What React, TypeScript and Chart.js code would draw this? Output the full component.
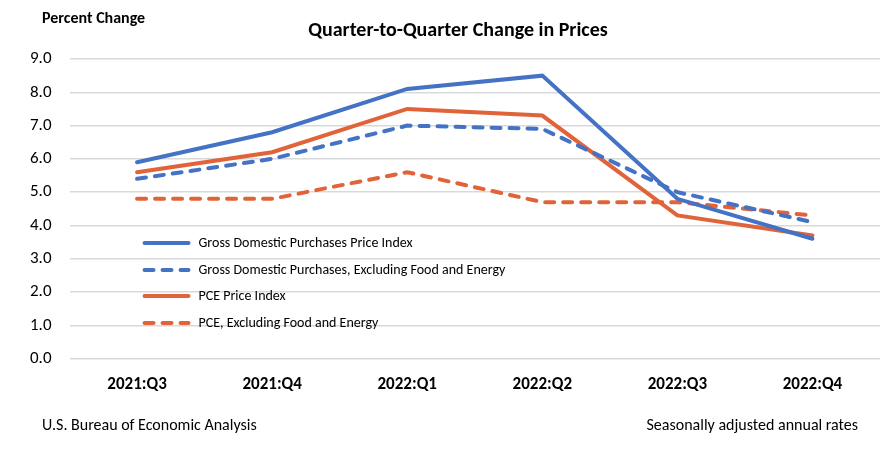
import React, { useEffect, useRef } from "react";
import { Chart, registerables } from "chart.js";

Chart.register(...registerables);

const quarters = ["2021:Q3", "2021:Q4", "2022:Q1", "2022:Q2", "2022:Q3", "2022:Q4"];
const gdpPurchases = [5.9, 6.8, 8.1, 8.5, 4.8, 3.6];
const gdpPurchasesCore = [5.4, 6.0, 7.0, 6.9, 5.0, 4.1];
const pce = [5.6, 6.2, 7.5, 7.3, 4.3, 3.7];
const pceCore = [4.8, 4.8, 5.6, 4.7, 4.7, 4.3];
const yTicks = [0, 1, 2, 3, 4, 5, 6, 7, 8, 9];

const seriesNames = [
  "Gross Domestic Purchases Price Index",
  "Gross Domestic Purchases, Excluding Food and Energy",
  "PCE Price Index",
  "PCE, Excluding Food and Energy",
];

const BLUE = "#4472C4";
const ORANGE = "#E0633A";
const FONT = "Carlito, Lato, 'Liberation Sans', sans-serif";
const DASH = [9, 9];

const textPlugin = {
  id: "bea-text",
  afterDraw(chart: any) {
    const ctx = chart.ctx;
    ctx.save();
    ctx.fillStyle = "#000";
    ctx.textBaseline = "middle";
    ctx.font = `bold 16px ${FONT}`;
    ctx.textAlign = "left";
    ctx.fillText("Percent Change", 42, 19);
    ctx.font = `bold 20px ${FONT}`;
    ctx.textAlign = "center";
    ctx.fillText("Quarter-to-Quarter Change in Prices", 458, 31);
    ctx.font = `16px ${FONT}`;
    ctx.textAlign = "left";
    ctx.fillText("U.S. Bureau of Economic Analysis", 42, 426);
    ctx.textAlign = "right";
    ctx.fillText("Seasonally adjusted annual rates", 858, 426);

    // legend inside plot
    const area = chart.chartArea;
    const x0 = area.left + 73;
    const rows = [243, 270, 296, 323];
    chart.data.datasets.forEach((ds: any, i: number) => {
      const y = rows[i];
      ctx.beginPath();
      ctx.strokeStyle = ds.borderColor;
      ctx.lineWidth = 4;
      ctx.lineCap = "round";
      ctx.setLineDash(ds.borderDash ? DASH : []);
      ctx.moveTo(x0 + 2, y);
      ctx.lineTo(x0 + 46, y);
      ctx.stroke();
      ctx.setLineDash([]);
      ctx.fillStyle = "#000";
      ctx.textAlign = "left";
      ctx.font = `14px ${FONT}`;
      ctx.fillText(ds.label, x0 + 56, y);
    });
    ctx.restore();
  },
};

export default function App() {
  const ref = useRef<HTMLCanvasElement>(null);
  useEffect(() => {
    document.body.style.margin = "0";
    const mk = (label: string, data: number[], color: string, dashed: boolean) => ({
      label,
      data,
      borderColor: color,
      backgroundColor: color,
      borderWidth: 4,
      borderDash: dashed ? DASH : undefined,
      borderCapStyle: "round" as const,
      pointRadius: 0,
      tension: 0,
      fill: false,
    });
    const chart = new Chart(ref.current!, {
      type: "line",
      data: {
        labels: quarters,
        datasets: [
          mk(seriesNames[0], gdpPurchases, BLUE, false),
          mk(seriesNames[1], gdpPurchasesCore, BLUE, true),
          mk(seriesNames[2], pce, ORANGE, false),
          mk(seriesNames[3], pceCore, ORANGE, true),
        ],
      },
      options: {
        animation: false,
        responsive: false,
        maintainAspectRatio: false,
        layout: { padding: { left: 12, right: 16, top: 59, bottom: 42 } },
        plugins: { legend: { display: false }, tooltip: { enabled: false }, title: { display: false } },
        scales: {
          x: {
            offset: true,
            grid: { display: false, drawTicks: false },
            border: { display: false },
            ticks: { color: "#000", font: { family: FONT, size: 17, weight: "bold" }, padding: 16, maxRotation: 0 },
          },
          y: {
            min: 0,
            max: 9,
            afterBuildTicks: (axis: any) => {
              axis.ticks = yTicks.map((v) => ({ value: v }));
            },
            grid: { color: "#D9D9D9", lineWidth: 1.5, drawTicks: false },
            border: { display: false },
            ticks: {
              color: "#000",
              font: { family: FONT, size: 17 },
              padding: 18,
              callback: (v: any) => Number(v).toFixed(1),
            },
          },
        },
      },
      plugins: [textPlugin],
    });
    return () => chart.destroy();
  }, []);
  return (
    <div style={{ width: 896, height: 453, background: "#fff" }}>
      <canvas ref={ref} width={896} height={453} style={{ display: "block" }} />
    </div>
  );
}
